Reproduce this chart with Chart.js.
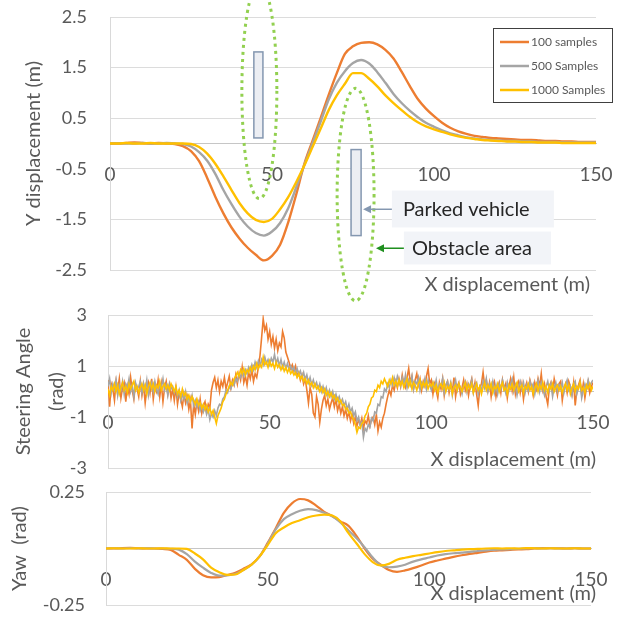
<!DOCTYPE html>
<html>
<head>
<meta charset="utf-8">
<script src="https://cdn.jsdelivr.net/npm/chart.js@4.4.1/dist/chart.umd.min.js"></script>
<style>
  html, body { margin: 0; padding: 0; background: #fff; }
  #wrap { position: relative; width: 633px; height: 618px; }
  #wrap canvas { position: absolute; left: 0; top: 0; }
</style>
</head>
<body>
<div id="wrap">
  <canvas id="yChart" width="633" height="618"></canvas>
  <canvas id="steerChart" width="633" height="618"></canvas>
  <canvas id="yawChart" width="633" height="618"></canvas>
</div>
<script>
// x positions (m)
const xSmooth = [0,2.5,5,7.5,10,12.5,15,17.5,20,22.5,25,27.5,30,32.5,35,37.5,40,42.5,45,47.5,
  50,52.5,55,57.5,60,62.5,65,67.5,70,72.5,75,77.5,80,82.5,85,87.5,90,92.5,95,97.5,
  100,102.5,105,107.5,110,112.5,115,117.5,120,122.5,125,127.5,130,132.5,135,137.5,140,142.5,145,147.5,150];
const xSteer = [0,0.5,1,1.5,2,2.5,3,3.5,4,4.5,5,5.5,6,6.5,7,7.5,8,8.5,9,9.5,
  10,10.5,11,11.5,12,12.5,13,13.5,14,14.5,15,15.5,16,16.5,17,17.5,18,18.5,19,19.5,
  20,20.5,21,21.5,22,22.5,23,23.5,24,24.5,25,25.5,26,26.5,27,27.5,28,28.5,29,29.5,
  30,30.5,31,31.5,32,32.5,33,33.5,34,34.5,35,35.5,36,36.5,37,37.5,38,38.5,39,39.5,
  40,40.5,41,41.5,42,42.5,43,43.5,44,44.5,45,45.5,46,46.5,47,47.5,48,48.5,49,49.5,
  50,50.5,51,51.5,52,52.5,53,53.5,54,54.5,55,55.5,56,56.5,57,57.5,58,58.5,59,59.5,
  60,60.5,61,61.5,62,62.5,63,63.5,64,64.5,65,65.5,66,66.5,67,67.5,68,68.5,69,69.5,
  70,70.5,71,71.5,72,72.5,73,73.5,74,74.5,75,75.5,76,76.5,77,77.5,78,78.5,79,79.5,
  80,80.5,81,81.5,82,82.5,83,83.5,84,84.5,85,85.5,86,86.5,87,87.5,88,88.5,89,89.5,
  90,90.5,91,91.5,92,92.5,93,93.5,94,94.5,95,95.5,96,96.5,97,97.5,98,98.5,99,99.5,
  100,100.5,101,101.5,102,102.5,103,103.5,104,104.5,105,105.5,106,106.5,107,107.5,108,108.5,109,109.5,
  110,110.5,111,111.5,112,112.5,113,113.5,114,114.5,115,115.5,116,116.5,117,117.5,118,118.5,119,119.5,
  120,120.5,121,121.5,122,122.5,123,123.5,124,124.5,125,125.5,126,126.5,127,127.5,128,128.5,129,129.5,
  130,130.5,131,131.5,132,132.5,133,133.5,134,134.5,135,135.5,136,136.5,137,137.5,138,138.5,139,139.5,
  140,140.5,141,141.5,142,142.5,143,143.5,144,144.5,145,145.5,146,146.5,147,147.5,148,148.5,149,149.5,
  150];

const seriesNames = ['100 samples', '500 Samples', '1000 Samples'];

// Y displacement (m)
const yDisp100 = [0,0,0.01,0.02,0.01,0,0.01,0,-0.01,-0.05,-0.15,-0.35,-0.68,-1.05,-1.38,-1.66,-1.88,-2.06,-2.2,-2.31,
  -2.22,-2.0,-1.56,-1.0,-0.4,0.05,0.5,0.96,1.39,1.77,1.92,1.99,2.0,1.96,1.85,1.68,1.42,1.14,0.88,0.69,
  0.54,0.41,0.31,0.24,0.19,0.15,0.13,0.11,0.1,0.09,0.08,0.07,0.07,0.06,0.05,0.05,0.04,0.04,0.03,0.03,0.03];
const yDisp500 = [0,0.005,0,0,0.01,0,0,0.01,0,-0.01,-0.06,-0.17,-0.34,-0.6,-0.92,-1.2,-1.45,-1.64,-1.77,-1.82,
  -1.74,-1.57,-1.28,-0.86,-0.42,0.0,0.43,0.87,1.2,1.43,1.59,1.65,1.58,1.41,1.2,0.98,0.8,0.65,0.52,0.41,
  0.33,0.26,0.2,0.16,0.12,0.1,0.08,0.07,0.06,0.05,0.05,0.04,0.04,0.03,0.03,0.03,0.02,0.02,0.02,0.02,0.02];
const yDisp1000 = [0,0,0.01,0,0,0.01,0,0,0,0,-0.01,-0.07,-0.2,-0.4,-0.65,-0.92,-1.18,-1.38,-1.51,-1.55,
  -1.49,-1.3,-1.06,-0.76,-0.43,-0.07,0.29,0.66,0.95,1.18,1.39,1.39,1.28,1.13,0.95,0.8,0.66,0.53,0.42,0.34,
  0.28,0.23,0.18,0.14,0.11,0.09,0.07,0.06,0.05,0.04,0.04,0.03,0.03,0.02,0.02,0.02,0.01,0.01,0.01,0.01,0.01];

// Steering angle (rad), every 0.5 m
const steer100 = [
  0.45,-0.60,0.30,0.10,-0.35,0.40,0.05,0.50,-0.25,0.15,0.35,-0.40,0.20,-0.10,0.55,0.05,-0.30,0.30,0.10,-0.20,
  0.40,-0.15,0.25,-0.45,0.10,0.35,-0.05,0.50,-0.30,0.20,0.00,0.45,-0.20,0.30,-0.40,0.15,0.40,-0.10,0.25,-0.25,
  0.10,-0.35,0.15,-0.50,-0.05,-0.30,-0.60,-0.10,-0.45,-0.20,-0.70,-0.35,-1.45,-0.50,-0.90,-0.40,-0.75,-0.30,-0.85,-0.55,
  -0.40,-0.80,-0.50,-0.65,0.05,0.35,0.55,0.15,0.45,0.00,0.40,0.20,0.55,0.10,0.35,0.60,0.15,0.45,0.25,0.65,
  0.30,0.70,0.45,0.95,0.35,0.60,0.25,0.75,0.50,0.85,0.40,0.70,0.55,0.95,1.40,2.10,2.85,2.40,2.60,2.05,
  2.35,1.85,2.15,1.70,2.05,1.60,1.90,1.75,2.35,2.10,1.55,1.35,1.15,0.90,1.05,0.80,1.00,0.60,0.75,0.45,
  0.65,0.30,0.50,0.05,-0.45,0.15,-0.10,-0.85,-1.00,-0.20,-0.50,-1.20,-0.70,-0.35,-0.15,-0.55,-0.30,-0.70,-0.45,-0.25,
  -0.60,-0.30,-0.75,-0.50,-0.85,-0.60,-0.95,-0.70,-1.05,-0.80,-1.15,-0.90,-1.25,-1.00,-1.35,-1.10,-1.30,-1.05,-1.45,-1.15,
  -1.25,-0.95,-1.35,-1.10,-1.00,-1.30,-0.90,-1.55,-1.20,-1.40,-1.05,-0.85,-0.50,-0.20,0.05,-0.15,0.25,0.05,0.40,0.15,
  0.50,0.20,0.65,0.30,0.15,0.55,0.90,0.35,0.60,0.10,0.45,0.70,0.25,0.50,0.05,0.40,0.20,0.60,0.90,0.30,
  0.45,-0.10,0.30,0.05,-0.25,0.35,0.10,0.50,-0.15,0.25,0.40,-0.05,0.30,0.00,0.55,-0.20,0.20,0.35,-0.10,0.15,
  0.45,0.05,0.30,-0.15,0.25,0.50,0.00,0.35,-0.10,-0.55,0.15,0.30,0.75,0.20,0.45,0.05,0.35,-0.20,0.25,0.40,
  -0.20,0.15,0.35,-0.05,0.45,0.10,0.30,-0.25,0.20,0.50,0.05,0.55,-0.10,0.25,0.40,-0.05,0.30,-0.30,0.15,0.35,
  0.00,0.45,0.20,-0.15,0.35,0.10,0.50,0.20,0.70,0.05,0.30,-0.20,-0.50,0.15,0.35,0.00,0.50,0.20,-0.15,0.30,
  0.40,-0.35,0.10,0.30,-0.05,0.40,0.20,-0.10,0.35,-0.55,0.05,0.25,0.45,-0.10,0.30,-0.25,0.15,0.40,-0.05,0.20,
  0.35];
const steer500 = [
  0.20,0.50,-0.05,0.30,0.10,0.45,-0.15,0.25,0.05,0.40,-0.10,0.30,0.15,0.50,0.00,0.25,-0.20,0.35,0.10,0.20,
  0.40,-0.05,0.30,0.05,0.45,-0.15,0.20,0.35,0.00,0.40,0.10,-0.10,0.30,0.15,0.50,0.05,0.25,-0.15,0.30,0.10,
  0.20,-0.05,0.15,-0.20,0.05,-0.35,-0.10,-0.30,0.00,-0.45,-0.20,-0.40,-0.15,-0.55,-0.35,-0.60,-0.40,-0.75,-0.55,-0.80,
  -0.60,-0.90,-0.70,-1.10,-0.85,-1.00,-0.75,-0.95,-0.65,-0.50,-0.55,-0.30,-0.20,0.05,-0.05,0.20,0.10,0.35,0.25,0.50,
  0.40,0.65,0.55,0.80,0.60,0.85,0.70,0.95,0.80,1.05,0.85,1.15,0.95,1.20,1.00,1.25,1.05,1.35,1.10,1.25,
  1.05,1.30,1.15,1.45,1.10,1.30,1.00,1.25,0.95,1.15,0.90,1.10,0.85,1.00,0.80,0.95,0.70,0.90,0.65,0.80,
  0.55,0.75,0.45,0.65,0.35,0.55,0.25,0.45,0.20,0.35,0.10,0.30,0.00,0.20,-0.05,0.15,-0.15,0.05,-0.20,0.00,
  -0.30,-0.10,-0.35,-0.20,-0.45,-0.30,-0.55,-0.40,-0.70,-0.50,-0.80,-0.65,-0.95,-0.80,-1.15,-1.00,-1.35,-1.20,-1.80,-1.45,
  -1.55,-1.30,-1.40,-1.05,-1.15,-0.80,-0.85,-0.50,-0.55,-0.20,-0.25,0.10,0.00,0.30,0.15,0.45,0.25,0.55,0.30,0.60,
  0.40,0.20,0.55,0.30,0.65,0.15,0.45,0.25,0.60,0.10,0.40,0.30,0.55,0.05,0.35,0.20,0.50,0.10,0.45,0.25,
  0.05,0.35,0.15,0.45,0.00,0.30,0.20,0.50,-0.05,0.25,0.40,0.10,0.35,-0.15,0.20,0.45,0.05,0.30,0.15,-0.10,
  0.25,0.40,0.00,0.30,0.15,0.45,-0.05,0.25,0.35,-0.10,0.20,0.05,0.40,0.15,0.50,0.00,0.30,0.10,0.40,-0.05,
  0.25,-0.10,0.30,0.10,0.45,0.20,-0.05,0.35,0.05,0.30,0.50,0.00,0.25,-0.15,0.20,0.40,0.10,0.35,-0.05,0.25,
  0.05,0.40,0.15,0.30,-0.10,0.25,0.45,0.00,0.35,0.10,-0.15,0.20,0.40,0.05,0.30,-0.20,0.15,0.35,0.00,0.25,
  0.10,0.35,-0.05,0.25,0.45,0.05,0.20,-0.15,0.30,0.40,-0.10,0.15,0.35,-0.25,0.05,0.30,0.10,0.45,0.20,0.35,
  0.45];
const steer1000 = [
  0.10,-0.15,0.20,0.05,0.30,0.00,0.25,-0.10,0.15,0.35,0.05,0.20,-0.05,0.30,0.10,0.25,0.40,0.05,0.20,-0.05,
  0.15,0.30,0.05,0.25,-0.10,0.20,0.35,0.10,0.30,0.00,0.25,0.15,0.40,0.05,0.20,0.30,0.10,0.25,0.05,0.30,
  0.15,0.00,0.20,-0.10,0.05,-0.20,0.10,-0.15,-0.05,-0.30,-0.15,-0.40,-0.20,-0.35,-0.50,-0.30,-0.55,-0.45,-0.65,-0.50,
  -0.70,-0.55,-0.80,-0.65,-0.90,-0.75,-1.00,-1.25,-0.95,-0.80,-0.65,-0.40,-0.30,-0.10,0.05,0.20,0.35,0.25,0.50,0.60,
  0.75,0.60,0.85,0.70,0.90,0.65,0.85,0.75,0.95,0.80,1.00,0.85,1.10,0.90,1.05,0.95,1.35,1.05,1.15,0.95,
  1.20,1.00,1.10,0.90,1.15,0.95,1.05,0.85,1.00,0.80,0.95,0.75,0.90,0.70,0.80,0.65,0.75,0.55,0.70,0.50,
  0.60,0.40,0.50,0.30,0.45,0.25,0.35,0.15,0.30,0.10,0.20,0.00,0.15,-0.05,0.10,-0.15,0.00,-0.20,-0.05,-0.25,
  -0.15,-0.35,-0.25,-0.45,-0.35,-0.55,-0.50,-0.70,-0.65,-0.85,-0.80,-1.00,-1.10,-1.30,-1.60,-1.40,-1.45,-1.25,-1.20,-0.95,
  -0.85,-0.60,-0.50,-0.25,-0.20,0.05,0.00,0.25,0.15,0.40,0.30,0.50,0.35,0.20,0.45,0.30,0.55,0.25,0.40,0.20,
  0.45,0.25,0.40,0.15,0.35,0.50,0.20,0.40,0.10,0.35,0.25,0.05,0.30,0.45,0.15,0.35,0.20,0.40,0.10,0.30,
  0.20,0.35,0.05,0.25,-0.05,0.20,0.30,0.10,0.35,0.00,0.20,0.10,0.30,-0.10,0.15,0.25,0.05,0.30,0.15,0.00,
  0.20,0.35,0.05,0.25,0.10,0.30,-0.05,0.15,0.30,0.05,0.20,-0.10,0.15,0.35,0.05,0.25,0.10,0.30,-0.05,0.20,
  0.10,0.30,0.00,0.20,0.35,0.05,0.15,-0.10,0.25,0.10,0.30,0.05,0.20,0.35,0.00,0.15,0.25,-0.05,0.20,0.10,
  0.30,0.05,0.20,-0.10,0.15,0.30,0.00,0.25,0.10,0.35,0.05,0.20,-0.05,0.25,0.10,0.30,0.00,0.15,0.25,0.05,
  0.20,-0.05,0.15,0.30,0.05,0.25,-0.10,0.15,0.30,0.00,0.20,0.10,0.35,0.05,0.15,-0.05,0.25,0.10,0.30,0.05,
  0.20];

// Yaw (rad)
const yaw100 = [0,0,0.002,0.003,0.001,0,0,-0.002,-0.006,-0.028,-0.05,-0.09,-0.118,-0.128,-0.127,-0.117,-0.107,-0.09,-0.07,-0.035,
  0.025,0.09,0.158,0.2,0.219,0.213,0.19,0.162,0.143,0.12,0.1,0.055,0,-0.045,-0.072,-0.095,-0.103,-0.097,-0.087,-0.075,
  -0.062,-0.053,-0.045,-0.037,-0.03,-0.024,-0.019,-0.014,-0.01,-0.008,-0.006,-0.004,-0.003,0,0.002,0.001,0.001,0,0.001,0,0];
const yaw500 = [0,0.001,0,0.002,0,0.001,0,0,-0.001,-0.005,-0.025,-0.058,-0.085,-0.108,-0.12,-0.119,-0.113,-0.095,-0.072,-0.035,
  0.02,0.085,0.13,0.152,0.167,0.174,0.17,0.158,0.142,0.115,0.08,0.045,0.005,-0.04,-0.074,-0.083,-0.08,-0.072,-0.058,-0.048,
  -0.04,-0.031,-0.025,-0.021,-0.018,-0.015,-0.011,-0.008,-0.006,-0.004,-0.003,-0.001,0,0.001,0,0.001,0,0,0.001,0,0];
const yaw1000 = [0,0.001,0,0,0.001,0,0,0.001,0,0,-0.002,-0.022,-0.048,-0.085,-0.105,-0.117,-0.115,-0.095,-0.072,-0.035,
  0.015,0.068,0.093,0.113,0.125,0.138,0.146,0.15,0.146,0.12,0.068,0.022,-0.025,-0.06,-0.075,-0.068,-0.05,-0.041,-0.034,-0.028,
  -0.022,-0.016,-0.011,-0.008,-0.005,-0.003,-0.002,0,0.001,0,0.001,0,0.002,0.001,0,0.001,0,0,0.001,0,0];

// obstacle annotations, in data units of the top chart
const vehicles = [
  { x0: 44.4, x1: 47.2, y0: 0.11, y1: 1.81 },
  { x0: 74.4, x1: 77.5, y0: -1.82, y1: -0.12 }
];
const obstacleAreas = [
  { cx: 46.1, cy: 1.04, rx: 5.4, ry: 2.13 },
  { cx: 75.8, cy: -1.01, rx: 5.7, ry: 2.1 }
];
const callouts = [
  { text: 'Parked vehicle', bx0: 87.0, bx1: 137.0, by0: -0.93, by1: -1.66, tx: 90.4, ty: -1.30,
    ax0: 87.0, ax1: 78.1, ay: -1.30, color: '#8497b0' },
  { text: 'Obstacle area', bx0: 90.7, bx1: 136.1, by0: -1.74, by1: -2.39, tx: 93.2, ty: -2.07,
    ax0: 90.7, ax1: 82.1, ay: -2.07, color: '#1f8f1f' }
];

const ORANGE = '#ED7D31', GRAY = '#A5A5A5', YELLOW = '#FFC000';
const TEXT = '#595959';
const FONT = 'Lato, "Open Sans", sans-serif';
Chart.defaults.font.family = FONT;
Chart.defaults.color = TEXT;

function pts(xs, ys) {
  return xs.map((x, i) => ({ x: x, y: ys[i] }));
}

function makeDatasets(xs, a, b, c, width, smooth) {
  const extra = smooth ? { cubicInterpolationMode: 'monotone' } : { tension: 0 };
  return [
    Object.assign({ label: seriesNames[0], data: pts(xs, a), borderColor: ORANGE, borderWidth: width, order: 3 }, extra),
    Object.assign({ label: seriesNames[1], data: pts(xs, b), borderColor: GRAY, borderWidth: width, order: 2 }, extra),
    Object.assign({ label: seriesNames[2], data: pts(xs, c), borderColor: YELLOW, borderWidth: width, order: 1 }, extra)
  ];
}

function arrow(ctx, x0, x1, y, color) {
  ctx.strokeStyle = color;
  ctx.fillStyle = color;
  ctx.lineWidth = 1.5;
  ctx.beginPath();
  ctx.moveTo(x0, y);
  ctx.lineTo(x1 + 6, y);
  ctx.stroke();
  ctx.beginPath();
  ctx.moveTo(x1, y);
  ctx.lineTo(x1 + 8, y - 4);
  ctx.lineTo(x1 + 8, y + 4);
  ctx.closePath();
  ctx.fill();
}

const xTitlePlugin = {
  id: 'xTitle',
  afterDraw(chart, args, opts) {
    const ctx = chart.ctx, ca = chart.chartArea;
    ctx.save();
    ctx.font = '20px ' + FONT;
    ctx.fillStyle = TEXT;
    ctx.textAlign = 'right';
    ctx.textBaseline = 'middle';
    ctx.fillText('X displacement (m)', ca.right + opts.dx, ca.bottom + opts.dy);
    ctx.restore();
  }
};

const obstaclePlugin = {
  id: 'obstacles',
  afterDatasetsDraw(chart) {
    const ctx = chart.ctx, sx = chart.scales.x, sy = chart.scales.y;
    ctx.save();
    vehicles.forEach(v => {
      const l = sx.getPixelForValue(v.x0), r = sx.getPixelForValue(v.x1);
      const t = sy.getPixelForValue(v.y1), b = sy.getPixelForValue(v.y0);
      ctx.fillStyle = '#eceef3';
      ctx.fillRect(l, t, r - l, b - t);
      ctx.strokeStyle = '#8497b0';
      ctx.lineWidth = 1.5;
      ctx.strokeRect(l, t, r - l, b - t);
    });
    obstacleAreas.forEach(e => {
      const cx = sx.getPixelForValue(e.cx), cy = sy.getPixelForValue(e.cy);
      const rx = sx.getPixelForValue(e.cx + e.rx) - cx;
      const ry = cy - sy.getPixelForValue(e.cy + e.ry);
      ctx.strokeStyle = '#92D050';
      ctx.lineWidth = 3;
      ctx.setLineDash([3, 4]);
      ctx.beginPath();
      ctx.ellipse(cx, cy, rx, ry, 0, 0, Math.PI * 2);
      ctx.stroke();
      ctx.setLineDash([]);
    });
    callouts.forEach(c => {
      const l = sx.getPixelForValue(c.bx0), r = sx.getPixelForValue(c.bx1);
      const t = sy.getPixelForValue(c.by0), b = sy.getPixelForValue(c.by1);
      ctx.fillStyle = '#f2f4f8';
      ctx.fillRect(l, t, r - l, b - t);
      ctx.font = '20px ' + FONT;
      ctx.fillStyle = '#262626';
      ctx.textAlign = 'left';
      ctx.textBaseline = 'middle';
      ctx.fillText(c.text, sx.getPixelForValue(c.tx), sy.getPixelForValue(c.ty));
      arrow(ctx, sx.getPixelForValue(c.ax0), sx.getPixelForValue(c.ax1), sy.getPixelForValue(c.ay), c.color);
    });
    ctx.restore();
  },
  afterDraw(chart) {
    // legend box
    const ctx = chart.ctx, ca = chart.chartArea;
    const left = ca.right - 103, top = ca.top + 11;
    ctx.save();
    ctx.fillStyle = '#fff';
    ctx.fillRect(left, top, 119, 74);
    ctx.strokeStyle = '#404040';
    ctx.lineWidth = 1;
    ctx.strokeRect(left + 0.5, top + 0.5, 119, 74);
    ctx.font = '12px ' + FONT;
    ctx.textAlign = 'left';
    ctx.textBaseline = 'middle';
    chart.data.datasets.forEach((ds, i) => {
      const y = top + 14 + i * 24;
      ctx.strokeStyle = ds.borderColor;
      ctx.lineWidth = 2.5;
      ctx.beginPath();
      ctx.moveTo(left + 7, y);
      ctx.lineTo(left + 36, y);
      ctx.stroke();
      ctx.fillStyle = TEXT;
      ctx.fillText(ds.label, left + 38, y);
    });
    ctx.restore();
  }
};

function options(o) {
  return {
    responsive: false,
    animation: false,
    events: [],
    layout: { padding: { left: 0, right: o.padRight, top: o.padTop, bottom: o.padBottom } },
    elements: { point: { radius: 0 } },
    plugins: {
      legend: { display: false },
      tooltip: { enabled: false },
      xTitle: { dx: o.xtDx, dy: o.xtDy }
    },
    scales: {
      x: {
        type: 'linear',
        position: { y: 0 },
        min: 0, max: 150,
        ticks: { stepSize: 50, padding: 20, font: { size: 19 }, color: TEXT, maxRotation: 0 },
        grid: { display: false, drawTicks: false },
        border: { color: '#c6c6c6', width: 1 }
      },
      y: {
        type: 'linear',
        min: o.yMin, max: o.yMax,
        afterFit: s => { s.width = o.axisWidth; },
        ticks: { stepSize: o.yStep, padding: 0, font: { size: 18 }, color: TEXT, callback: o.yLabel },
        grid: { color: '#dcdcdc', drawTicks: true, tickLength: o.tickPad, tickColor: 'rgba(0,0,0,0)' },
        border: { color: '#d9d9d9' },
        title: {
          display: true, text: o.yTitle, color: TEXT,
          font: { size: 20, lineHeight: o.titleLH },
          padding: { top: o.titlePad, bottom: 0 }
        }
      }
    }
  };
}

new Chart(document.getElementById('yChart'), {
  type: 'line',
  data: { datasets: makeDatasets(xSmooth, yDisp100, yDisp500, yDisp1000, 2.4, true) },
  options: options({
    padTop: 17, padBottom: 348, padRight: 37, axisWidth: 110,
    yMin: -2.5, yMax: 2.5, yStep: 1, tickPad: 23,
    yLabel: v => String(v),
    yTitle: 'Y displacement (m)', titleLH: 1.2, titlePad: 22,
    xtDx: -6, xtDy: 15
  }),
  plugins: [obstaclePlugin, xTitlePlugin]
});

new Chart(document.getElementById('steerChart'), {
  type: 'line',
  data: { datasets: makeDatasets(xSteer, steer100, steer500, steer1000, 1.6, false) },
  options: options({
    padTop: 315, padBottom: 150, padRight: 40, axisWidth: 108,
    yMin: -3, yMax: 3, yStep: 2, tickPad: 21,
    yLabel: v => String(v),
    yTitle: ['Steering Angle', '(rad)'], titleLH: 1.65, titlePad: 7.5,
    xtDx: 3, xtDy: -8
  }),
  plugins: [xTitlePlugin]
});

new Chart(document.getElementById('yawChart'), {
  type: 'line',
  data: { datasets: makeDatasets(xSmooth, yaw100, yaw500, yaw1000, 2.2, true) },
  options: options({
    padTop: 492, padBottom: 13, padRight: 42, axisWidth: 106,
    yMin: -0.25, yMax: 0.25, yStep: 0.25, tickPad: 21,
    yLabel: v => (v === 0 ? '' : String(v)),
    yTitle: 'Yaw  (rad)', titleLH: 1.2, titlePad: 8,
    xtDx: 5, xtDy: -11
  }),
  plugins: [xTitlePlugin]
});
</script>
</body>
</html>
